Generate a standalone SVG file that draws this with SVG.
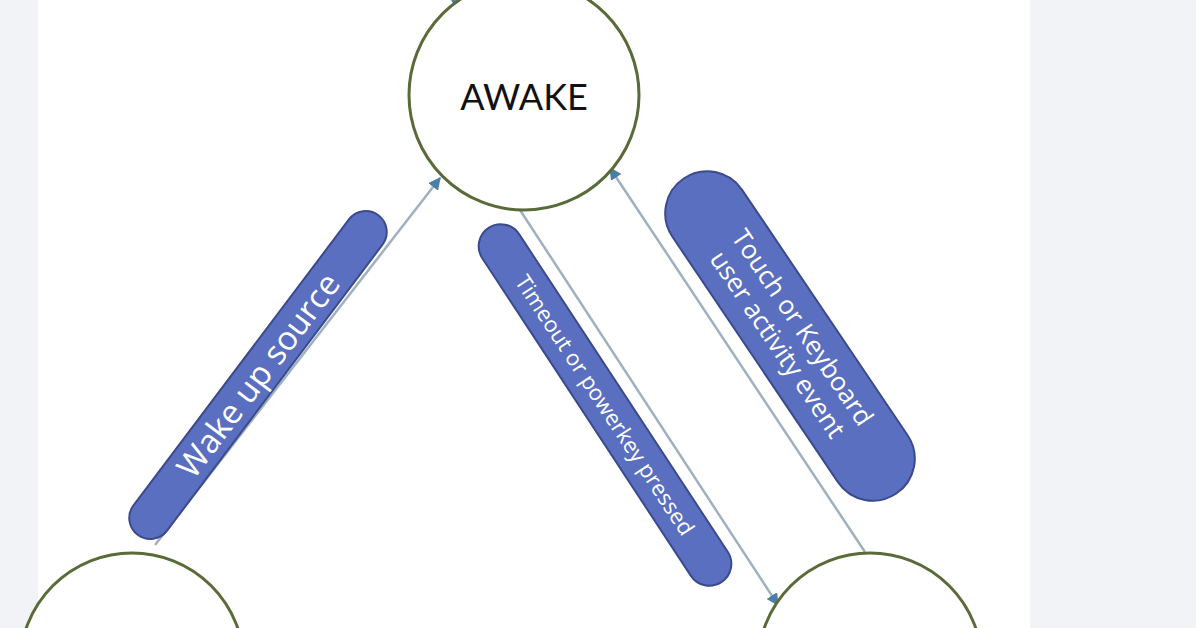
<svg xmlns="http://www.w3.org/2000/svg" width="1196" height="628" viewBox="0 0 1196 628">
<defs>
<marker id="ah" viewBox="0 0 10 10" refX="9" refY="5" markerWidth="5" markerHeight="5" orient="auto"><path d="M0,0L10,5L0,10z" fill="#4a7fa8"/></marker>
<style>
.n{fill:#fff;stroke:#5a6b3a;stroke-width:3}
.c{stroke:#9fb0c0;stroke-width:2.5;fill:none;marker-end:url(#ah)}
.p{fill:#5a6fc0;stroke:#3b4a8c;stroke-width:2}
.t{fill:#fff;font-family:"Open Sans","Liberation Sans",sans-serif;text-anchor:middle}
</style>
</defs>
<rect width="1196" height="628" fill="#f1f3f6"/>
<rect x="38" y="0" width="992" height="628" fill="#fff"/>
<g id="connectors">
<line class="c" x1="155" y1="545" x2="440" y2="178"/>
<line class="c" x1="520" y1="210" x2="778" y2="605"/>
<line class="c" x1="865" y1="552" x2="610" y2="168"/>
<line class="c" x1="470" y1="14" x2="452" y2="0"/>
</g>
<g id="awake"><circle class="n" cx="524" cy="95" r="115"/><text x="524" y="110" font-family="Lato,'Liberation Sans',sans-serif" font-size="36" fill="#111" text-anchor="middle">AWAKE</text></g>
<g id="left"><circle class="n" cx="132" cy="665" r="112"/></g>
<g id="right"><circle class="n" cx="870" cy="665" r="112"/></g>
<g id="l1" transform="translate(258,375) rotate(-53)"><rect class="p" x="-200" y="-21" width="400" height="42" rx="21"/><text class="t" y="12" font-size="33">Wake up source</text></g>
<g id="l2" transform="translate(605,405) rotate(56.7)"><rect class="p" x="-212" y="-22" width="424" height="44" rx="22"/><text class="t" y="8" font-size="22">Timeout or powerkey pressed</text></g>
<g id="l3" transform="translate(790,336) rotate(56)"><rect class="p" x="-190" y="-42" width="380" height="84" rx="42"/><text class="t" y="-6" font-size="26">Touch or Keyboard</text><text class="t" y="24" font-size="26">user activity event</text></g>
</svg>
